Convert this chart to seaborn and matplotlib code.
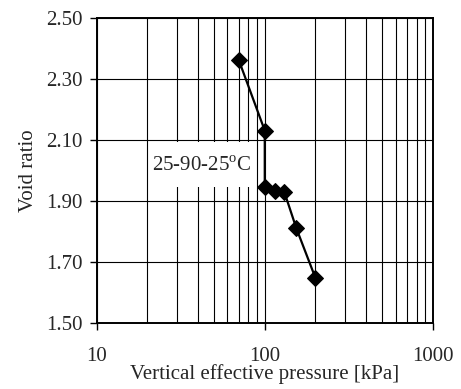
import matplotlib
matplotlib.use("Agg")
import matplotlib.pyplot as plt
import matplotlib.ticker as mticker
import matplotlib.patches as mpatches
import seaborn as sns
import pandas as pd

pressure_kpa = [70, 100, 100, 115, 131, 154, 200]
void_ratio = [2.363, 2.131, 1.945, 1.932, 1.928, 1.811, 1.648]
annotation = "25-90-25$^{\\mathrm{o}}$C"
x_ticks = [10, 100, 1000]
x_tick_labels = ["10", "100", "1000"]
y_ticks = [1.50, 1.70, 1.90, 2.10, 2.30, 2.50]
y_tick_labels = ["1.50", "1.70", "1.90", "2.10", "2.30", "2.50"]

sns.set_style("white")
plt.rcParams['font.family'] = ['Liberation Serif', 'DejaVu Serif']
plt.rcParams['mathtext.fontset'] = 'custom'
plt.rcParams['mathtext.rm'] = 'Liberation Serif'

df = pd.DataFrame({"p": pressure_kpa, "e": void_ratio})

fig = plt.figure(figsize=(4.61, 3.89), dpi=100)
ax = fig.add_axes([96.5/461, 1 - 323/389, (433-96.5)/461, (323-18)/389])

ax.set_xscale("log")
ax.set_xlim(10, 1000)
ax.set_ylim(1.5, 2.5)

ax.grid(True, which="both", axis="x", color="black", linewidth=0.8)
ax.grid(True, which="major", axis="y", color="black", linewidth=0.8)
ax.xaxis.set_minor_locator(mticker.LogLocator(base=10, subs=range(2, 10)))
ax.set_axisbelow(True)

sns.lineplot(data=df, x="p", y="e", sort=False, estimator=None, ax=ax,
             color="black", linewidth=1.6, marker="D", markersize=8.5,
             markeredgecolor="black", markerfacecolor="black", zorder=3)

ax.set_xticks(x_ticks)
ax.set_xticklabels(x_tick_labels)
ax.set_yticks(y_ticks)
ax.set_yticklabels(y_tick_labels)
ax.tick_params(axis="both", which="major", direction="out", length=5, width=1,
               labelsize=15, color="black", left=True, bottom=True, pad=5)
ax.tick_params(axis="x", which="minor", bottom=False)
ax.xaxis.set_tick_params(pad=12)

for s in ax.spines.values():
    s.set_color("black")
    s.set_linewidth(1.4)

ax.set_xlabel("Vertical effective pressure [kPa]", fontsize=15, labelpad=-1)
ax.set_ylabel("Void ratio", fontsize=15, labelpad=6)

ax.add_patch(mpatches.Rectangle((0.159, 0.446), 0.312, 0.147,
                                transform=ax.transAxes, facecolor="white",
                                edgecolor="none", zorder=2.5))
ax.text(0.312, 0.513, annotation, fontsize=15, ha="center", va="center",
        transform=ax.transAxes, zorder=4)

fig.savefig("out.png", dpi=100)
